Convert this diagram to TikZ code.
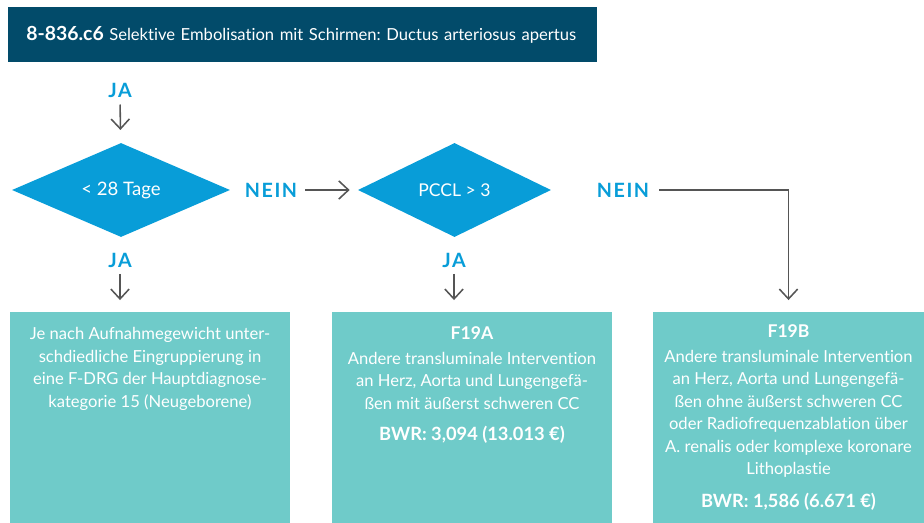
\documentclass[tikz,border=0pt]{standalone}
\usepackage{fontspec}
\setmainfont{Lato}[Ligatures=NoCommon]
\usetikzlibrary{shapes.geometric,arrows.meta,positioning}
\definecolor{kopfblau}{RGB}{2,75,106}
\definecolor{rautenblau}{RGB}{8,157,216}
\definecolor{kastengruen}{RGB}{111,203,201}
\definecolor{pfeilgrau}{RGB}{85,85,85}

\begin{document}
\begin{tikzpicture}[x=0.025cm, y=-0.025cm]
	\tikzstyle{every node} = [inner sep=0pt, font=\fontsize{11.8}{16}\selectfont]
	\tikzstyle{raute} = [diamond, aspect=2, fill=rautenblau, text=white, minimum height=2.35cm]
	\tikzstyle{antwort} = [text=rautenblau, font=\fontsize{14}{16}\selectfont\bfseries\addfontfeatures{LetterSpace=8}]
	\tikzstyle{kasten} = [rectangle, fill=kastengruen, minimum height=5.275cm, anchor=north]
	\tikzstyle{kastentext} = [text=white, align=center, anchor=north]
	\tikzstyle{pfeil} = [draw=pfeilgrau, line width=1.1pt, -{Straight Barb[length=7pt, width=13pt]}]
	\useasboundingbox (0,0) rectangle (924,523);
	% Kopfzeile
	\node (kopf) [anchor=north west, fill=kopfblau, text=white, minimum height=1.375cm,
		text width=13.825cm, inner xsep=0.45cm, align=left] at (8,7)
		{{\fontsize{13.8}{15}\selectfont\bfseries 8-836.c6} \fontsize{11.8}{14}\selectfont Selektive Embolisation mit Schirmen:\ Ductus arteriosus apertus};
	% Entscheidungen
	\node (ja0) [antwort] at (120,90) {JA};
	\node (d1) [raute, minimum width=5.45cm, font=\fontsize{13.2}{15}\selectfont] at (121,190) {< 28 Tage};
	\node (nein1) [antwort] at (271,190) {NEIN};
	\node (d2) [raute, minimum width=4.825cm, font=\fontsize{12.5}{15}\selectfont] at (454.5,190) {PCCL > 3};
	\node (nein2) [antwort] at (623,190) {NEIN};
	\node (ja1) [antwort] at (120,260) {JA};
	\node (ja2) [antwort] at (454,260) {JA};
	% Ergebnisse
	\node (box1) [kasten, minimum width=7cm] at (150,312) {};
	\node (box2) [kasten, minimum width=7cm] at (472,312) {};
	\node (box3) [kasten, minimum width=6.775cm] at (788.5,312) {};
	\node (text1) [kastentext] at (150,327) {Je nach Aufnahmegewicht unter-\\schdiedliche Eingruppierung in\\eine F-DRG der Hauptdiagnose-\\kategorie 15 (Neugeborene)};
	\node (text2) [kastentext] at (472,326) {{\fontsize{12.5}{16}\selectfont\bfseries F19A}\\[2pt]
		Andere transluminale Intervention\\an Herz, Aorta und Lungengefä-\\ßen mit äußerst schweren CC\\[6pt]
		{\fontsize{13}{16}\selectfont\bfseries BWR: 3,094 (13.013 €)}};
	\node (text3) [kastentext] at (788.5,324) {{\fontsize{12.5}{16}\selectfont\bfseries F19B}\\[2pt]
		Andere transluminale Intervention\\an Herz, Aorta und Lungengefä-\\ßen ohne äußerst schweren CC\\oder Radiofrequenzablation über\\A. renalis oder komplexe koronare\\Lithoplastie\\[7pt]
		{\fontsize{13}{16}\selectfont\bfseries BWR: 1,586 (6.671 €)}};
	% Pfeile
	\draw [pfeil, shorten <=5pt, shorten >=9.2pt] (ja0) -- (d1);
	\draw [pfeil, shorten <=5.7pt, shorten >=5.7pt] (nein1) -- (d2);
	\draw [pfeil, shorten <=7pt, shorten >=8.5pt] (nein2) -| (box3);
	\draw [pfeil, shorten <=4.5pt, shorten >=8.5pt] (ja1) -- (ja1 |- box1.north);
	\draw [pfeil, shorten <=4.5pt, shorten >=8.5pt] (ja2) -- (ja2 |- box2.north);
\end{tikzpicture}
\end{document}
